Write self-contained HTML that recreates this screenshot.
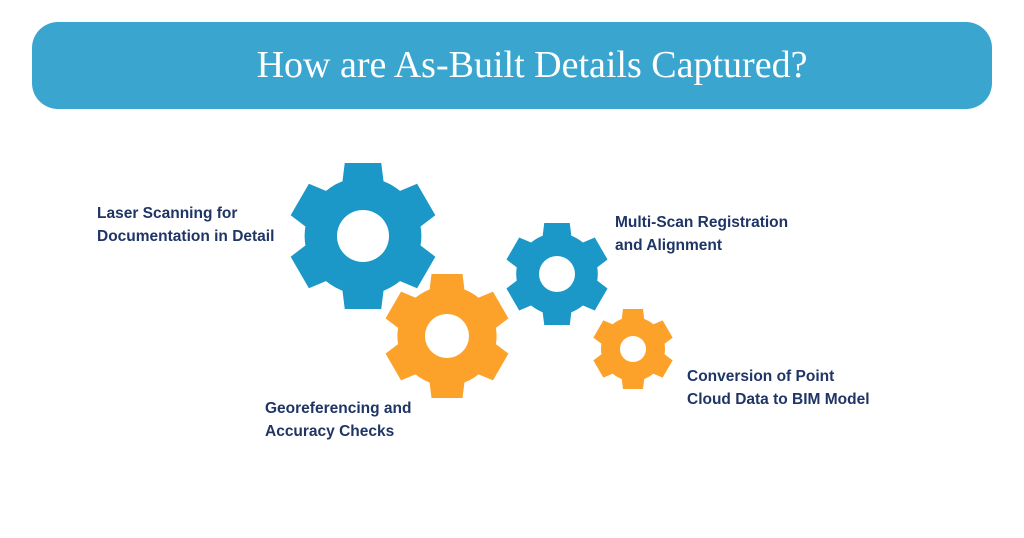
<!DOCTYPE html>
<html><head><meta charset="utf-8"><style>
body{margin:0;width:1024px;height:538px;background:#fff;position:relative;overflow:hidden;font-family:"Liberation Sans",sans-serif}
.hdr{position:absolute;left:32px;top:22px;width:960px;height:87px;background:#3aa6cf;border-radius:26px;}
.hdr div{position:absolute;left:40px;right:0;top:21px;text-align:center;color:#fff;font-family:"Liberation Serif",serif;font-size:38px}
.l{position:absolute;color:#1f3566;font-weight:bold;font-size:15.5px;line-height:23px}
</style></head><body>
<div class="hdr"><div>How are As-Built Details Captured?</div></div>
<svg width="1024" height="538" style="position:absolute;left:0;top:0">
<defs>
<g id="gear">
<circle r="0.8"/>
<g>
<path id="t" d="M-0.25,-1 L0.25,-1 L0.3,-0.6 L-0.3,-0.6Z"/>
<use href="#t" transform="rotate(60)"/><use href="#t" transform="rotate(120)"/>
<use href="#t" transform="rotate(180)"/><use href="#t" transform="rotate(240)"/><use href="#t" transform="rotate(300)"/>
</g>
</g>
</defs>
<g fill="#1b98c7"><use href="#gear" transform="translate(363,236) scale(73)"/></g>
<circle cx="363" cy="236" r="26" fill="#fff"/>
<g fill="#fca22a"><use href="#gear" transform="translate(447,336) scale(62)"/></g>
<circle cx="447" cy="336" r="22" fill="#fff"/>
<g fill="#1b98c7"><use href="#gear" transform="translate(557,274) scale(51)"/></g>
<circle cx="557" cy="274" r="18" fill="#fff"/>
<g fill="#fca22a"><use href="#gear" transform="translate(633,349) scale(40)"/></g>
<circle cx="633" cy="349" r="13" fill="#fff"/>
</svg>
<div class="l" style="left:97px;top:202px">Laser Scanning for<br>Documentation in Detail</div>
<div class="l" style="left:615px;top:211px">Multi-Scan Registration<br>and Alignment</div>
<div class="l" style="left:687px;top:365px">Conversion of Point<br>Cloud Data to BIM Model</div>
<div class="l" style="left:265px;top:397px">Georeferencing and<br>Accuracy Checks</div>
</body></html>
